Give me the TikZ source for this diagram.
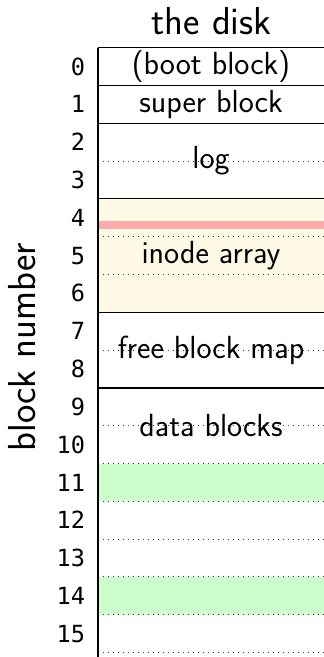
\documentclass[tikz,border=0pt]{standalone}
\usepackage{fontspec}
\usepackage{tikz}
\newfontfamily\blocknumfont{DejaVu Sans Mono}
\usetikzlibrary{positioning}
\definecolor{inodefill}{RGB}{255,250,230}
\definecolor{inodemark}{RGB}{255,170,170}
\definecolor{datafill}{RGB}{204,255,204}
\tikzset{
  disktitle/.style={font=\sffamily\fontsize{19.5}{23}\selectfont,inner sep=0pt},
  disklabel/.style={font=\sffamily\fontsize{16}{19}\selectfont,inner sep=0pt},
  blocknum/.style={font=\blocknumfont\fontsize{11.8}{14}\selectfont,
    anchor=east,inner sep=0pt},
  solidsep/.style={line width=0.6pt,color=black},
  dottedsep/.style={dotted,line width=0.5pt,color=black!80},
  diskedge/.style={line width=1pt,color=black},
}

\begin{document}
\begin{tikzpicture}[x=0.5pt,y=-0.5pt]
\useasboundingbox (0,0) rectangle (324,657);

%% ── block boundaries ─────────────────────────────────────────────────────
\foreach \i in {0,...,16} {
  \coordinate (b\i) at (97.5,{47.7+37.8*\i});
  \coordinate (e\i) at (324,{47.7+37.8*\i});
  \coordinate (c\i) at (211,{47.7+37.8*\i});
}
\foreach \i in {0,...,15}
  \coordinate (m\i) at (211,{47.7+37.8*(\i+0.5)});
\coordinate (diskbottom) at (97.5,657);

%% ── fills ────────────────────────────────────────────────────────────────
\fill[inodefill] (b4) rectangle (e7);
\fill[inodemark] ([yshift=-11.2pt]b4) rectangle ([yshift=-15pt]e4);
\fill[datafill] (b11) rectangle (e12);
\fill[datafill] (b14) rectangle (e15);

%% ── separators ───────────────────────────────────────────────────────────
\foreach \i in {3,5,6,8,10,11,12,13,14,15,16}
  \draw[dottedsep] (b\i) -- (e\i);
\foreach \i in {0,1,2,4,7,9}
  \draw[solidsep] (b\i) -- (e\i);
\draw[diskedge] (b0) -- (diskbottom);

%% ── labels ───────────────────────────────────────────────────────────────
\node[disktitle] (title) at (211.5,21) {the disk};
\node[disklabel] (boot) at (m0) {(boot block)};
\node[disklabel] (super) at (m1) {super block};
\node[disklabel] (log) at (c3) {log};
\node[disklabel] (inode) at (m5) {inode array};
\node[disklabel] (freemap) at (c8) {free block map};
\node[disklabel] (data) at (c10) {data blocks};

\foreach \i in {0,...,15}
  \node[blocknum] (num\i) at ([xshift=-6pt]m\i -| b0) {\i};
\node[disktitle,rotate=90] (axis) at (22.5,347) {block number};

\end{tikzpicture}
\end{document}
